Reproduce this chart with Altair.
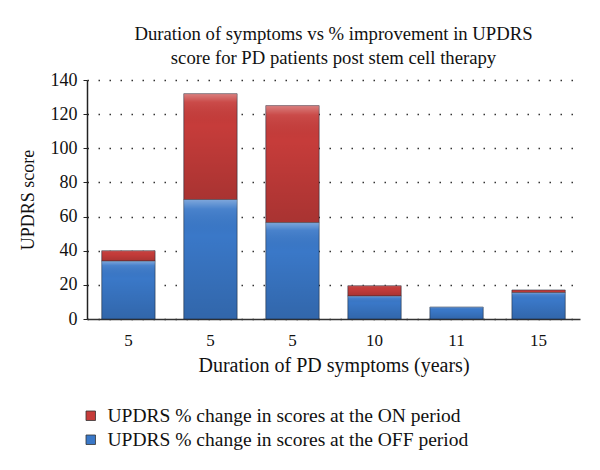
import json
import altair as alt
import pandas as pd

categories = ["5", "5", "5", "10", "11", "15"]
off_values = [34, 70, 56.5, 13.5, 7, 15.5]
on_values = [6, 62, 68.5, 6, 0, 1.5]
series_names = [
    "UPDRS % change in scores at the ON period",
    "UPDRS % change in scores at the OFF period",
]
series_colors = ["#c63c3a", "#3a78c8"]
y_ticks = [0, 20, 40, 60, 80, 100, 120, 140]

rows = []
for i, (c, off, on) in enumerate(zip(categories, off_values, on_values)):
    rows.append(dict(idx=i, label=c, series=series_names[1], start=0, end=off))
    if on > 0:
        rows.append(dict(idx=i, label=c, series=series_names[0], start=off, end=off + on))
df = pd.DataFrame(rows)

FONT = "Liberation Serif"
label_expr = json.dumps(categories) + "[datum.value]"

x = alt.X(
    "idx:O",
    scale=alt.Scale(paddingInner=0.35, paddingOuter=0.18),
    axis=alt.Axis(
        title="Duration of PD symptoms (years)",
        labelExpr=label_expr,
        labelAngle=0,
        ticks=False,
        labelPadding=13,
        titlePadding=7,
        titleFontSize=20,
        labelFontSize=17,
        domainColor="#333333",
        domainWidth=1.5,
    ),
)
y = alt.Y(
    "start:Q",
    scale=alt.Scale(domain=[0, 140], nice=False),
    axis=alt.Axis(
        title="UPDRS score",
        values=y_ticks,
        tickSize=4,
        tickColor="#222222",
        labelPadding=6,
        labelFontSize=18,
        titleFontSize=18,
        titlePadding=13,
        grid=True,
        gridDash=[1.5, 9.5],
        gridColor="#333333",
        gridWidth=1.3,
        domainColor="#222222",
        domainWidth=1.5,
    ),
)

bars = alt.Chart(df).mark_bar(stroke="#1e2a3a", strokeWidth=0.8, strokeOpacity=0.7).encode(
    x=x,
    y=y,
    y2="end:Q",
    color=alt.Color(
        "series:N",
        scale=alt.Scale(domain=series_names, range=series_colors),
        legend=alt.Legend(
            title=None,
            orient="none",
            legendX=-6,
            legendY=326,
            direction="vertical",
            symbolType="square",
            symbolSize=90,
            symbolStrokeColor="#333333",
            symbolStrokeWidth=0.8,
            labelFont=FONT,
            labelFontSize=19.5,
            labelColor="#111111",
            labelLimit=500,
            rowPadding=3,
            labelOffset=7,
        ),
    ),
)

shade = alt.Chart(df).mark_bar(
    fill=alt.Gradient(
        gradient="linear",
        stops=[
            alt.GradientStop(color="rgba(255,255,255,0.35)", offset=0),
            alt.GradientStop(color="rgba(255,255,255,0.08)", offset=0.08),
            alt.GradientStop(color="rgba(0,0,0,0.0)", offset=0.3),
            alt.GradientStop(color="rgba(0,0,0,0.15)", offset=1),
        ],
        x1=0, x2=0, y1=0, y2=1,
    ),
).encode(x=x, y=y, y2="end:Q")

chart = (
    alt.layer(bars, shade)
    .properties(
        width=493,
        height=239,
        autosize=alt.AutoSizeParams(type="none"),
        padding={"left": 79, "top": 72, "right": 12, "bottom": 140},
        title=alt.Title(
            ["Duration of symptoms vs % improvement in UPDRS", "score for PD patients post stem cell therapy"],
            font=FONT,
            fontSize=18.7,
            fontWeight="normal",
            color="#111111",
            anchor="middle",
            frame="group",
            offset=3,
            lineHeight=24,
        ),
    )
    .configure_view(stroke=None)
    .configure_axis(
        labelFont=FONT,
        titleFont=FONT,
        labelColor="#111111",
        titleColor="#111111",
        titleFontWeight="normal",
    )
)

chart.save("out.html", embed_options={"renderer": "svg", "actions": False})
